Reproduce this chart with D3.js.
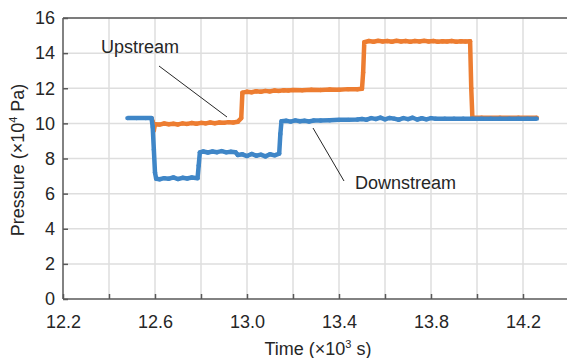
<!DOCTYPE html>
<html>
<head>
<meta charset="utf-8">
<script src="https://cdn.jsdelivr.net/npm/d3@7"></script>
<style>
  body { margin: 0; background: #fff; }
  text { font-family: "Liberation Sans", Arial, sans-serif; fill: #262626; }
</style>
</head>
<body>
<div id="chart"></div>
<script>
// readings (time in 10^3 s, pressure in 10^4 Pa)
const downTime = [12.48, 12.52, 12.56, 12.585, 12.59, 12.595, 12.60, 12.605, 12.62, 12.64, 12.66, 12.68, 12.70, 12.72, 12.74, 12.76, 12.785,
  12.79, 12.795, 12.81, 12.83, 12.85, 12.87, 12.89, 12.91, 12.93, 12.95, 12.96, 12.98, 13.00, 13.02, 13.04, 13.06, 13.08, 13.10, 13.12, 13.14,
  13.145, 13.15, 13.17, 13.19, 13.21, 13.23, 13.25, 13.27, 13.29, 13.32, 13.36, 13.40, 13.44, 13.48, 13.50, 13.52, 13.54, 13.56, 13.58,
  13.60, 13.62, 13.64, 13.66, 13.68, 13.70, 13.72, 13.74, 13.76, 13.78, 13.80, 13.82, 13.86, 13.90, 13.94, 13.98, 14.02, 14.06, 14.10,
  14.14, 14.18, 14.22, 14.26]
const downPressure = [10.30, 10.30, 10.30, 10.30, 9.8, 8.5, 7.2, 6.85, 6.82, 6.88, 6.85, 6.92, 6.83, 6.90, 6.86, 6.92, 6.88,
  7.6, 8.35, 8.40, 8.34, 8.40, 8.36, 8.42, 8.35, 8.39, 8.36, 8.20, 8.24, 8.14, 8.26, 8.16, 8.22, 8.12, 8.24, 8.18, 8.28,
  9.4, 10.12, 10.15, 10.10, 10.17, 10.12, 10.15, 10.11, 10.16, 10.16, 10.18, 10.20, 10.20, 10.22, 10.25, 10.21, 10.30, 10.25, 10.33,
  10.23, 10.31, 10.27, 10.21, 10.30, 10.24, 10.32, 10.22, 10.29, 10.23, 10.30, 10.26, 10.27, 10.27, 10.27, 10.27, 10.27, 10.27, 10.27,
  10.27, 10.27, 10.27, 10.27]

const upTime = [12.585, 12.59, 12.595, 12.60, 12.62, 12.64, 12.66, 12.68, 12.70, 12.72, 12.74, 12.76, 12.78, 12.80, 12.82, 12.84, 12.86,
  12.88, 12.90, 12.92, 12.94, 12.96, 12.975, 12.98, 13.00, 13.02, 13.04, 13.06, 13.08, 13.10, 13.12, 13.14, 13.16, 13.18, 13.20, 13.24,
  13.28, 13.32, 13.36, 13.40, 13.44, 13.48, 13.50, 13.505, 13.51, 13.53, 13.55, 13.57, 13.59, 13.61, 13.63, 13.65, 13.67, 13.69, 13.71,
  13.73, 13.75, 13.77, 13.79, 13.81, 13.83, 13.85, 13.87, 13.89, 13.91, 13.93, 13.95, 13.97, 13.975, 13.98, 14.02, 14.10, 14.18, 14.26]
const upPressure = [10.30, 10.1, 9.6, 9.95, 9.93, 9.99, 9.95, 9.98, 9.94, 10.00, 9.97, 10.02, 9.98, 10.03, 10.00, 10.05, 10.01,
  10.05, 10.03, 10.07, 10.05, 10.09, 10.3, 11.75, 11.80, 11.77, 11.83, 11.80, 11.85, 11.82, 11.87, 11.85, 11.89, 11.87, 11.90, 11.88,
  11.92, 11.90, 11.93, 11.92, 11.95, 11.94, 11.97, 12.9, 14.62, 14.69, 14.65, 14.70, 14.66, 14.69, 14.65, 14.70, 14.66, 14.69, 14.65,
  14.69, 14.66, 14.70, 14.66, 14.69, 14.65, 14.68, 14.66, 14.69, 14.65, 14.68, 14.66, 14.68, 12.0, 10.32, 10.32, 10.32, 10.32, 10.32]

const xTicks = [12.2, 12.4, 12.6, 12.8, 13.0, 13.2, 13.4, 13.6, 13.8, 14.0, 14.2, 14.4]
const xLabels = [12.2, 12.6, 13.0, 13.4, 13.8, 14.2]
const yTicks = [0, 2, 4, 6, 8, 10, 12, 14, 16]

const width = 567, height = 358
const mLeft = 63, mTop = 18, mBottom = 299
const x = d3.scaleLinear().domain([12.2, 14.4]).range([mLeft, mLeft + 2.2 * 230])
const y = d3.scaleLinear().domain([0, 16]).range([mBottom, mTop])

const svg = d3.select('#chart').append('svg')
  .attr('width', width).attr('height', height)

// grid
svg.append('g').selectAll('line').data(xTicks.slice(1)).enter().append('line')
  .attr('x1', d => x(d)).attr('x2', d => x(d)).attr('y1', mTop).attr('y2', mBottom)
  .attr('stroke', '#dedede').attr('stroke-width', 1.5)
svg.append('g').selectAll('line').data(yTicks.slice(1)).enter().append('line')
  .attr('x1', mLeft).attr('x2', width).attr('y1', d => y(d)).attr('y2', d => y(d))
  .attr('stroke', '#dedede').attr('stroke-width', 1.5)

// series
const series = [
  {t: upTime, p: upPressure, color: '#ED7D31'},
  {t: downTime, p: downPressure, color: '#3F86C7'}
]
const line = d3.line().x(d => x(d[0])).y(d => y(d[1]))
series.forEach(s => {
  const pts = s.t.map((t, i) => [t, s.p[i]])
  svg.append('path').datum(pts).attr('d', line)
    .attr('fill', 'none').attr('stroke', s.color).attr('stroke-width', 4.5)
    .attr('stroke-linejoin', 'round')
  svg.append('g').selectAll('circle').data(pts).enter().append('circle')
    .attr('cx', d => x(d[0])).attr('cy', d => y(d[1])).attr('r', 2.2)
    .attr('fill', s.color)
})

// axes frame
svg.append('line').attr('x1', mLeft).attr('x2', width).attr('y1', mTop).attr('y2', mTop)
  .attr('stroke', '#595959').attr('stroke-width', 1.5)
const xAxis = d3.axisBottom(x).tickValues(xTicks).tickSize(-5)
  .tickFormat(d => xLabels.includes(d) ? d3.format('.1f')(d) : '')
const gx = svg.append('g').attr('transform', `translate(0,${mBottom})`).call(xAxis)
const yAxis = d3.axisLeft(y).tickValues(yTicks).tickSize(-5).tickFormat(d3.format('d'))
const gy = svg.append('g').attr('transform', `translate(${mLeft},0)`).call(yAxis)
;[gx, gy].forEach(g => {
  g.select('.domain').attr('stroke', '#595959').attr('stroke-width', 1.5)
  g.selectAll('.tick line').attr('stroke', '#595959').attr('stroke-width', 1.5)
  g.selectAll('.tick text').attr('font-size', 18)
    .style('font-family', '"Liberation Sans", Arial, sans-serif').attr('fill', '#262626')
})
gx.select('.domain').attr('d', `M${mLeft},0H${width}`)
gx.selectAll('.tick text').attr('y', 16)
gy.select('.domain').attr('d', `M0,${mTop}V${mBottom}`)
gy.selectAll('.tick text').attr('x', -8)

// axis titles
const xt = svg.append('text').attr('x', 318).attr('y', 355).attr('text-anchor', 'middle')
  .attr('font-size', 18)
xt.append('tspan').text('Time (×10')
xt.append('tspan').attr('dy', -7).attr('font-size', 11).text('3')
xt.append('tspan').attr('dy', 7).text(' s)')

const yt = svg.append('text').attr('transform', 'translate(24,160) rotate(-90)')
  .attr('text-anchor', 'middle').attr('font-size', 18)
yt.append('tspan').text('Pressure (×10')
yt.append('tspan').attr('dy', -7).attr('font-size', 11).text('4')
yt.append('tspan').attr('dy', 7).text(' Pa)')

// annotations
svg.append('text').attr('x', 101).attr('y', 53).attr('font-size', 18).text('Upstream')
svg.append('line').attr('x1', 159).attr('y1', 66).attr('x2', 227).attr('y2', 117)
  .attr('stroke', '#262626').attr('stroke-width', 1)
svg.append('text').attr('x', 355).attr('y', 189).attr('font-size', 18).text('Downstream')
svg.append('line').attr('x1', 313).attr('y1', 128).attr('x2', 344).attr('y2', 181)
  .attr('stroke', '#262626').attr('stroke-width', 1)
</script>
</body>
</html>
